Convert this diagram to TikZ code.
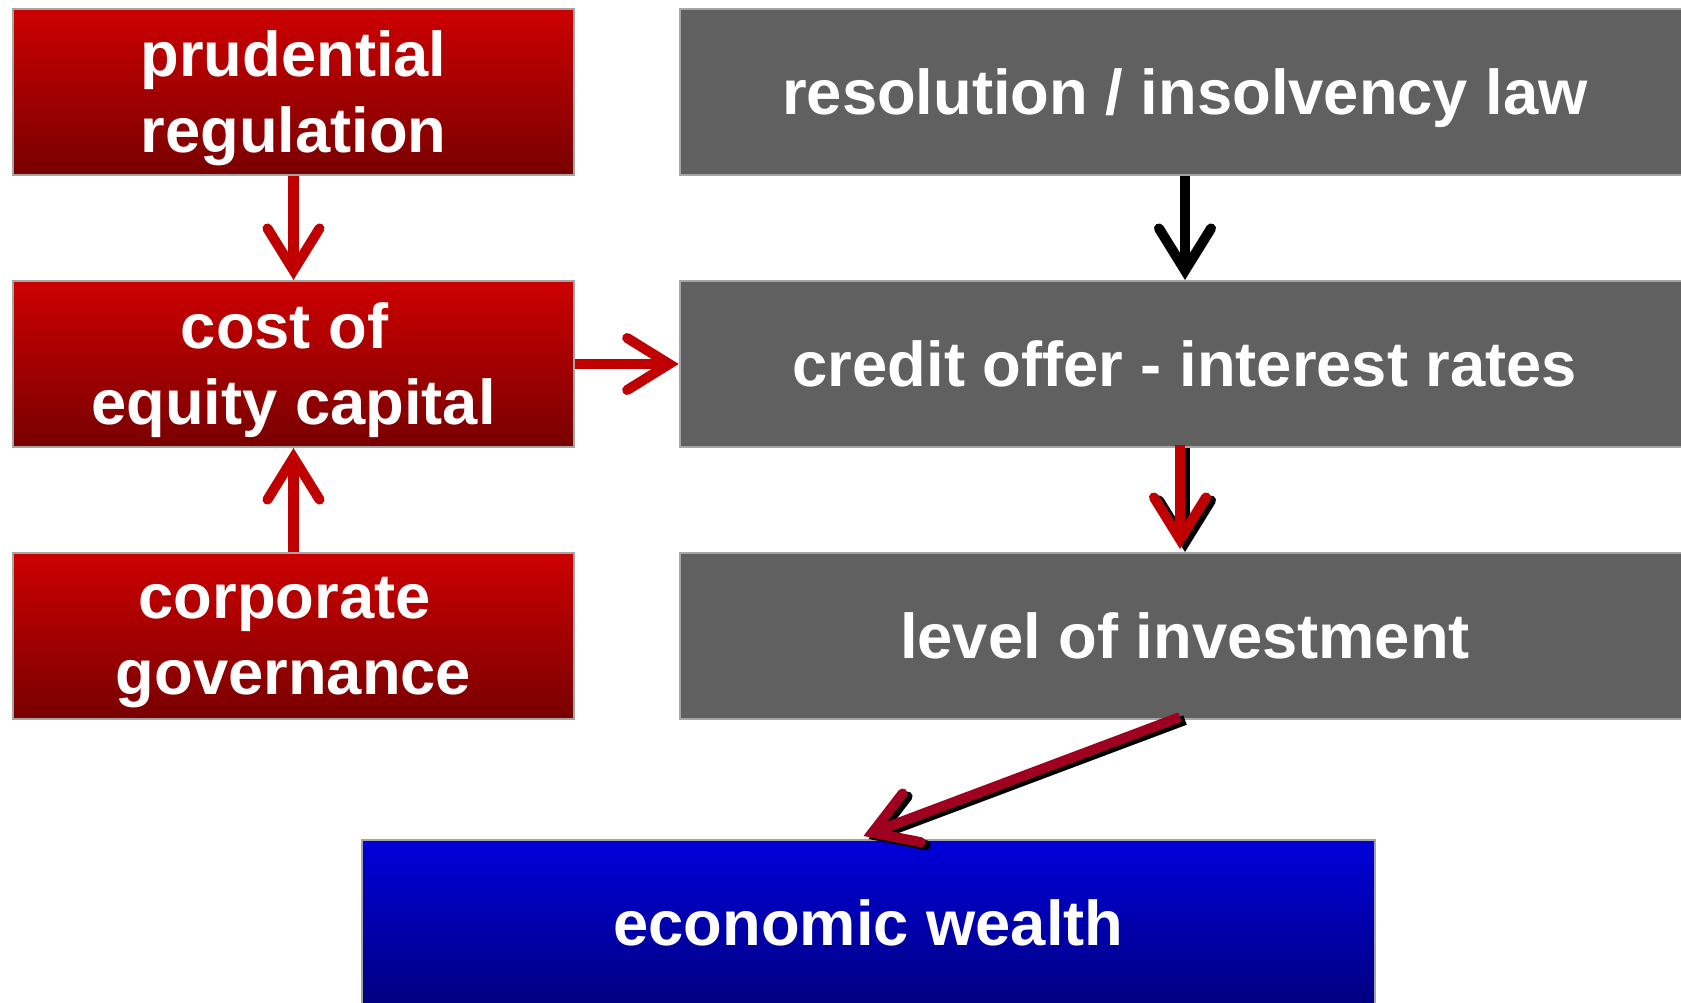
\documentclass[tikz,border=0pt]{standalone}
\usepackage{fontspec}
\setmainfont{Liberation Sans}
\usetikzlibrary{arrows.meta,positioning}

\definecolor{redtop}{RGB}{205,0,0}
\definecolor{redbot}{RGB}{120,0,0}
\definecolor{bluetop}{RGB}{0,0,218}
\definecolor{bluebot}{RGB}{0,0,128}
\definecolor{boxgrey}{RGB}{96,96,96}
\definecolor{boxline}{RGB}{165,165,165}
\definecolor{arrowred}{RGB}{192,0,0}
\definecolor{arrowwine}{RGB}{160,0,32}

\begin{document}
\begin{tikzpicture}[
x=0.01cm, y=-0.01cm,
every node/.style={draw=boxline, line width=0.02cm, minimum width=5.61cm, minimum height=1.66cm, inner sep=0pt, text depth=0pt, text=white, align=center, font=\fontsize{18}{21.6}\selectfont\bfseries},
redbox/.style={top color=redtop, bottom color=redbot},
greybox/.style={fill=boxgrey, minimum width=10.1cm},
bluebox/.style={top color=bluetop, bottom color=bluebot, minimum width=10.13cm},
link/.style={line width=0.1cm, -{Straight Barb[length=0.42cm, width=0.52cm, line cap=round, line join=miter]}},
lifted/.style={transform canvas={shift={(-0.05cm,0.03cm)}}}
]
\useasboundingbox (0,0) rectangle (1681,1002);
\clip (0,0) rectangle (1681,1002);

\node[redbox] at (293.5,92) (prud) {prudential\\regulation};
\node[redbox] at (293.5,364) (cost) {cost of\kern.28em\\equity capital};
\node[redbox] at (293.5,636) (corp) {corporate\kern.28em\\governance};
\node[greybox] at (1185,92) (resol) {resolution / insolvency law};
\node[greybox] at (1185,364) (credit) {credit offer - interest rates};
\node[greybox] at (1185,636) (invest) {level of investment};
\node[bluebox] at (868.5,923) (wealth) {economic wealth};

\draw[link, arrowred] (prud) -- (cost);
\draw[link, arrowred] (corp) -- (cost);
\draw[link, arrowred] (cost) -- (credit);
\draw[link] (resol) -- (credit);

% black underneath, colour on top
\draw[link] (credit) -- (invest);
\draw[link, arrowred, lifted] (credit) -- (invest);
\draw[link] (invest.south) -- (wealth.north);
\draw[link, arrowwine, lifted] (invest.south) -- (wealth.north);

\end{tikzpicture}
\end{document}
